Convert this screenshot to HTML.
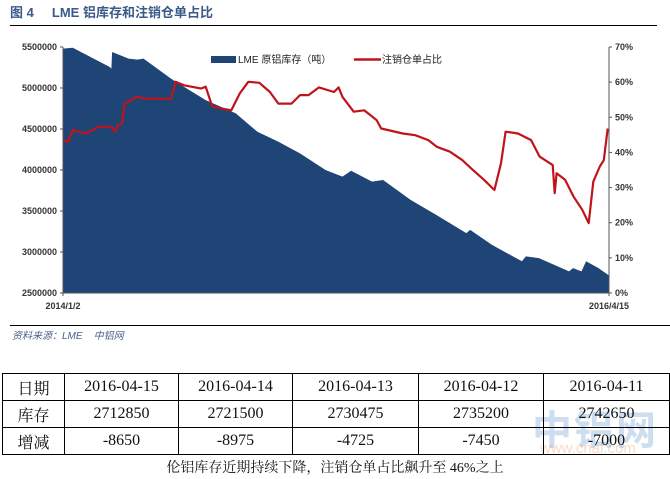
<!DOCTYPE html>
<html><head><meta charset="utf-8">
<style>
body{margin:0;background:#fff;width:670px;height:479px;position:relative;overflow:hidden;font-family:"Liberation Sans","Noto Sans CJK SC",sans-serif}
.abs{position:absolute}
table{border-collapse:collapse;position:absolute;left:2px;top:373px}
td{border:1px solid #000;height:26px;padding:0;text-align:center;font-family:"Liberation Serif","Noto Serif CJK SC",serif;font-size:16px;color:#111}
</style></head><body>
<div class="abs" style="left:10px;top:2px;font-size:13px;color:#3b5a8a;font-weight:bold">图 4&nbsp;&nbsp;&nbsp;&nbsp;&nbsp;LME 铝库存和注销仓单占比</div>
<div class="abs" style="left:10px;top:25px;width:647px;height:1px;background:#000"></div>
<svg class="abs" style="left:0;top:0" width="670" height="330">
<g id="g"></g>
</svg>
<div class="abs" style="left:10px;top:325px;width:660px;height:1px;background:#000"></div>
<div class="abs" style="left:12px;top:327px;font-size:10px;color:#4a5f8a;font-style:italic">资料来源：LME&nbsp;&nbsp;&nbsp;&nbsp;中铝网</div>
<div class="abs" style="left:532px;top:398px;font-size:40px;font-weight:bold;color:rgba(110,160,210,0.35);letter-spacing:2px">中铝网</div>
<div class="abs" style="left:540px;top:440px;font-size:15px;color:rgba(240,150,90,0.35)">www.cnal.com</div>
<table>
<tr><td style="width:61px">日期</td><td style="width:113px">2016-04-15</td><td style="width:113px">2016-04-14</td><td style="width:125px">2016-04-13</td><td style="width:124px">2016-04-12</td><td style="width:125px">2016-04-11</td></tr>
<tr><td>库存</td><td>2712850</td><td>2721500</td><td>2730475</td><td>2735200</td><td>2742650</td></tr>
<tr><td>增减</td><td>-8650</td><td>-8975</td><td>-4725</td><td>-7450</td><td>-7000</td></tr>
</table>
<div class="abs" style="left:0;width:670px;top:457px;text-align:center;font-size:14px;color:#111;font-family:'Liberation Serif','Noto Serif CJK SC',serif">伦铝库存近期持续下降，注销仓单占比飙升至 46%之上</div>
<script>
const stockDays=[0,15,71,74,75,100,114,123,165,185,218,264,297,329,362,401,427,440,472,489,531,570,616,622,655,701,707,727,773,779,792,799,818,834];
const stockVals=[5480000,5492000,5257000,5237000,5439000,5358000,5346000,5358000,5115000,5014000,4852000,4690000,4466000,4345000,4203000,4000000,3919000,3992000,3858000,3878000,3635000,3453000,3230000,3270000,3088000,2886000,2946000,2926000,2764000,2804000,2764000,2886000,2804000,2712850];
const ratioDays=[0,8,15,35,54,74,80,84,90,94,113,126,165,172,185,211,218,228,257,270,283,300,316,329,349,362,375,391,414,421,427,444,460,479,486,519,538,558,571,591,610,623,643,659,669,676,695,715,728,748,751,754,767,780,793,803,810,820,826,832];
const ratioVals=[43.5,43,46.4,45.4,47.3,47.3,45.9,47.8,48.2,53.9,55.8,55.3,55.3,60.1,59.1,58.2,58.7,53,52,56.8,60.1,59.8,57.2,53.9,53.9,56.3,56.3,58.5,57.2,58.5,55.8,51.6,52,49.2,46.8,45.4,44.9,43.5,41.6,40.2,37.8,35.5,32.2,29.3,36.9,45.9,45.4,43.5,38.8,36.4,28.4,34.1,32.2,27.4,23.7,19.9,31.7,36,37.8,46.8];
const leftTicks=[2500000,3000000,3500000,4000000,4500000,5000000,5500000];
const rightTicks=[0,10,20,30,40,50,60,70];
const xLabels=["2014/1/2","2016/4/15"];
const X0=63,X1=609,Y0=293,Y1=47,D=834;
const xs=d=>X0+d/D*(X1-X0);
const yl=v=>Y0-(v-2500000)/3000000*(Y0-Y1);
const yr=p=>Y0-p/70*(Y0-Y1);
const g=document.getElementById('g');const NS="http://www.w3.org/2000/svg";
function mk(t,a){const e=document.createElementNS(NS,t);for(const k in a)e.setAttribute(k,a[k]);g.appendChild(e);return e;}
let d="M"+xs(stockDays[0])+","+Y0;
stockDays.forEach((s,i)=>{d+=" L"+xs(s).toFixed(1)+","+yl(stockVals[i]).toFixed(1);});
d+=" L"+xs(stockDays[stockDays.length-1])+","+Y0+" Z";
const area=mk('path',{d:d,fill:'#1f4476'});


let l="";ratioDays.forEach((s,i)=>{l+=(i?" L":"M")+xs(s).toFixed(1)+","+yr(ratioVals[i]).toFixed(1);});
const line=mk('path',{d:l,fill:'none',stroke:'#c0141b','stroke-width':2.2,'stroke-linejoin':'round'});


const ax=mk('line',{x1:X0,y1:Y1,x2:X0,y2:Y0+3,stroke:'#555','stroke-width':1});


const ax2=mk('line',{x1:X1,y1:Y1,x2:X1,y2:Y0+3,stroke:'#555','stroke-width':1});


const ax3=mk('line',{x1:X0,y1:Y0,x2:X1,y2:Y0,stroke:'#555','stroke-width':1});


leftTicks.forEach(v=>{const t=mk('text',{x:X0-6,y:yl(v)+3,'text-anchor':'end','font-size':9,'font-weight':'bold',fill:'#333','font-family':'Liberation Sans'});t.textContent=v;


mk('line',{x1:X0-3,x2:X0,y1:yl(v),y2:yl(v),stroke:'#555'});});
rightTicks.forEach(v=>{const t=mk('text',{x:X1+6,y:yr(v)+3,'font-size':9,'font-weight':'bold',fill:'#333','font-family':'Liberation Sans'});t.textContent=v+"%";


mk('line',{x1:X1,x2:X1+3,y1:yr(v),y2:yr(v),stroke:'#555'});});
const xl1=mk('text',{x:X0,y:309,'text-anchor':'middle','font-size':9,'font-weight':'bold',fill:'#333','font-family':'Liberation Sans'});xl1.textContent=xLabels[0];


const xl2=mk('text',{x:X1,y:309,'text-anchor':'middle','font-size':9,'font-weight':'bold',fill:'#333','font-family':'Liberation Sans'});xl2.textContent=xLabels[1];


const lg1=mk('rect',{x:211,y:56,width:25,height:7,fill:'#1f4476'});


const lt1=mk('text',{x:238,y:63,'font-size':10,fill:'#222','font-family':'Liberation Sans, Noto Sans CJK SC'});lt1.textContent="LME 原铝库存（吨）";


const lg2=mk('line',{x1:354,x2:381,y1:59.5,y2:59.5,stroke:'#c0141b','stroke-width':2.5});


const lt2=mk('text',{x:382,y:63,'font-size':10,fill:'#222','font-family':'Liberation Sans, Noto Sans CJK SC'});lt2.textContent="注销仓单占比";


</script>
</body></html>
